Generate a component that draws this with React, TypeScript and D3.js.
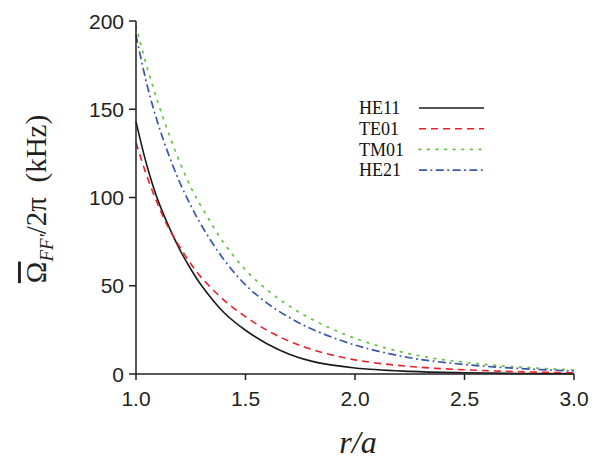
import React from "react";
import * as d3 from "d3";

const rValues = [1.0, 1.05, 1.1, 1.15, 1.2, 1.25, 1.3, 1.4, 1.5, 1.6, 1.7, 1.8, 2.0, 2.25, 2.5, 2.75, 3.0];
const he11 = [143, 118, 98.5, 83.5, 70.5, 59.5, 50, 35, 24.8, 17, 11.2, 7.3, 3.4, 1.5, 0.7, 0.3, 0.1];
const te01 = [131, 112, 96, 82.5, 72, 62.5, 54.5, 42, 32.5, 24.6, 18.6, 14, 8, 4.3, 2.4, 1.3, 0.7];
const tm01 = [197, 174, 154, 136, 120, 106, 94.5, 74.5, 59, 47.5, 38.5, 31.2, 20.2, 11.4, 6.6, 3.9, 2.3];
const he21 = [192, 164, 142, 124, 108.5, 95.5, 84, 65, 50.5, 40, 32, 25.6, 16.4, 9.2, 5.4, 3.1, 1.7];

const xTicks = [1.0, 1.5, 2.0, 2.5, 3.0];
const yTicks = [0, 50, 100, 150, 200];

const seriesNames = ["HE11", "TE01", "TM01", "HE21"];
const seriesData = [he11, te01, tm01, he21];
const seriesColors = ["#1a1a1a", "#e8202a", "#6cc04a", "#3a56a8"];
const seriesDash = ["", "7,5", "1.6,7", "8,3.5,1.8,3.5"];
const seriesWidth = [1.6, 1.6, 1.8, 1.7];

export default function App() {
  const W = 602, H = 461;
  const x = d3.scaleLinear().domain([1, 3]).range([136, 574]);
  const y = d3.scaleLinear().domain([0, 200]).range([374, 21]);
  const line = d3
    .line<number>()
    .x((_, i) => x(rValues[i]))
    .y((d) => y(d))
    .curve(d3.curveCatmullRom.alpha(0.5));

  const tickFont = "'Liberation Sans', Arial, sans-serif";
  const serif = "'Liberation Serif'";
  const axisColor = "#231f20";

  return (
    <svg width={W} height={H} style={{ position: "absolute", left: 0, top: 0, background: "#fff" }}>
      {seriesData.map((s, k) => (
        <path
          key={k}
          d={line(s) || ""}
          fill="none"
          stroke={seriesColors[k]}
          strokeWidth={seriesWidth[k]}
          strokeDasharray={seriesDash[k] || undefined}
          strokeLinecap={k === 2 ? "round" : "butt"}
        />
      ))}
      <line x1={x(1)} x2={x(1)} y1={y(200)} y2={y(0)} stroke={axisColor} strokeWidth={1.5} />
      <line x1={x(1)} x2={x(3)} y1={y(0)} y2={y(0)} stroke={axisColor} strokeWidth={1.5} />
      {yTicks.map((t) => (
        <g key={"y" + t}>
          <line x1={x(1) - 7} x2={x(1)} y1={y(t)} y2={y(t)} stroke={axisColor} strokeWidth={1.5} />
          <text x={x(1) - 12} y={y(t)} dy="0.36em" textAnchor="end" fontFamily={tickFont} fontSize={21} fill={axisColor}>
            {t}
          </text>
        </g>
      ))}
      {xTicks.map((t) => (
        <g key={"x" + t}>
          <line x1={x(t)} x2={x(t)} y1={y(0)} y2={y(0) + 6} stroke={axisColor} strokeWidth={1.5} />
          <text x={x(t)} y={y(0) + 32} textAnchor="middle" fontFamily={tickFont} fontSize={21} fill={axisColor}>
            {t.toFixed(1)}
          </text>
        </g>
      ))}
      <text x={358} y={453} textAnchor="middle" fontFamily={serif} fontStyle="italic" fontSize={32} fill={axisColor}>
        r/a
      </text>
      <g transform="translate(46,199) rotate(-90)">
        <text textAnchor="middle" fontFamily={serif} fontSize={29} fill={axisColor}>
          <tspan fontFamily={serif} style={{ textDecoration: "overline" }}>Ω</tspan>
          <tspan fontFamily={serif} fontStyle="italic" fontSize={19} dy={7}>FF′</tspan>
          <tspan fontFamily={serif} dy={-7}>{"/2π\u00A0\u00A0(kHz)"}</tspan>
        </text>
      </g>
      {seriesNames.map((n, k) => {
        const yy = 108 + k * 20.7;
        return (
          <g key={n}>
            <text x={359} y={yy} dy="0.35em" fontFamily={serif} fontSize={18} fill="#111">
              {n}
            </text>
            <line
              x1={419}
              x2={484}
              y1={yy}
              y2={yy}
              stroke={seriesColors[k]}
              strokeWidth={seriesWidth[k]}
              strokeDasharray={seriesDash[k] || undefined}
              strokeLinecap={k === 2 ? "round" : "butt"}
            />
          </g>
        );
      })}
    </svg>
  );
}
